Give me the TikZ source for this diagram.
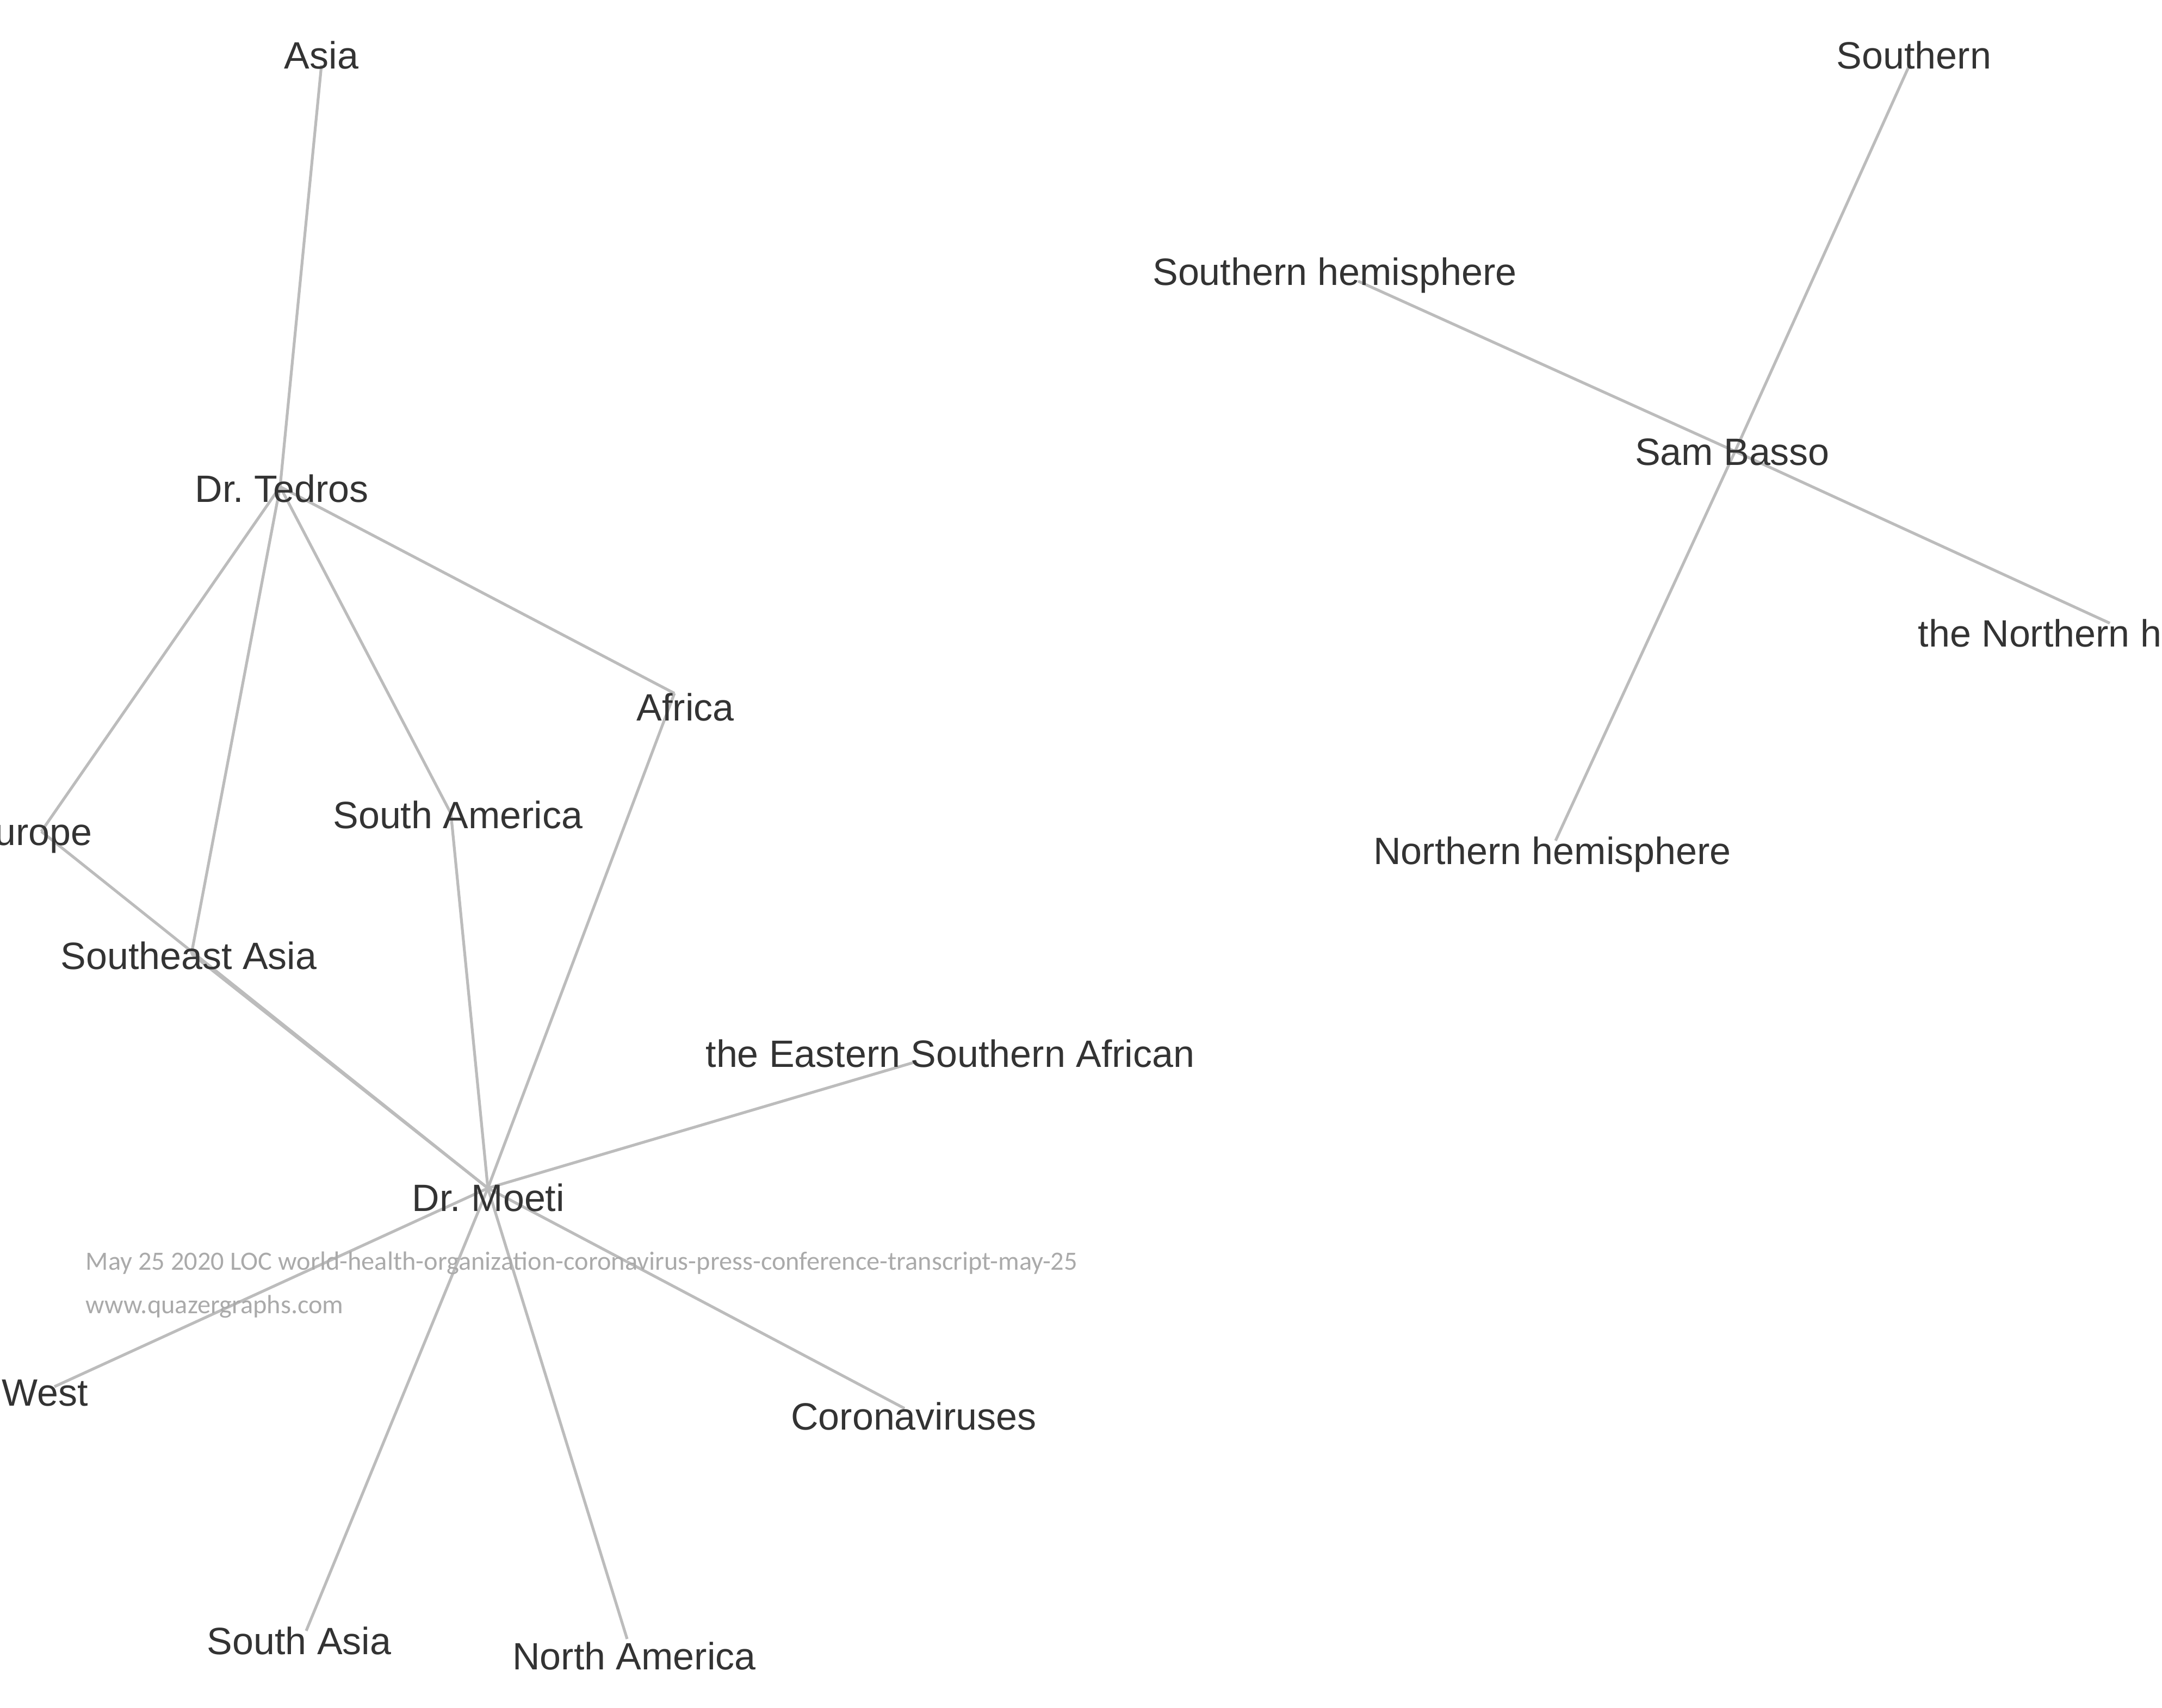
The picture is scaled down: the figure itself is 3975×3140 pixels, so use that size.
\documentclass[tikz,border=0pt]{standalone}
\usepackage{fontspec}
\setmainfont{Liberation Sans}
\newfontfamily\wmfont{Carlito}
\frenchspacing
\definecolor{edgegray}{RGB}{188,188,188}
\definecolor{textdark}{RGB}{51,51,51}
\definecolor{wmgray}{RGB}{170,170,170}
\tikzset{
  edge/.style={draw=edgegray, line width=1.3pt},
  lbl/.style={inner sep=0pt, text=textdark, font=\fontsize{17.5}{21}\selectfont, anchor=base},
  wm/.style={inner sep=0pt, text=wmgray, font=\wmfont\fontsize{12.1}{14}\selectfont, anchor=base west}
}
\begin{document}
\begin{tikzpicture}[x=0.25pt,y=-0.25pt]
\useasboundingbox (0,0) rectangle (3975,3140);
\clip (0,0) rectangle (3975,3140);
% node points
\coordinate (asia) at (591,120);
\coordinate (southern) at (3511,119);
\coordinate (shemi) at (2497,517);
\coordinate (basso) at (3190,830);
\coordinate (tedros) at (515,895);
\coordinate (thenorth) at (3879,1146);
\coordinate (africa) at (1240,1275);
\coordinate (europe) at (76,1529);
\coordinate (samerica) at (829,1496);
\coordinate (nhemi) at (2860,1546);
\coordinate (seasia) at (352,1754);
\coordinate (eastern) at (1686,1952);
\coordinate (moeti) at (897,2185);
\coordinate (west) at (100,2550);
\coordinate (corona) at (1663,2590);
\coordinate (sasia) at (563,2999);
\coordinate (namerica) at (1153,3014);
% connectors
\draw[edge] (tedros) -- (asia);
\draw[edge] (tedros) -- (europe);
\draw[edge] (tedros) -- (seasia);
\draw[edge] (tedros) -- (samerica);
\draw[edge] (tedros) -- (africa);
\draw[edge] (moeti) -- (europe);
\draw[edge] (moeti) -- (seasia);
\draw[edge] (moeti) -- (samerica);
\draw[edge] (moeti) -- (africa);
\draw[edge] (moeti) -- (eastern);
\draw[edge] (moeti) -- (west);
\draw[edge] (moeti) -- (corona);
\draw[edge] (moeti) -- (sasia);
\draw[edge] (moeti) -- (namerica);
\draw[edge] (basso) -- (southern);
\draw[edge] (basso) -- (shemi);
\draw[edge] (basso) -- (thenorth);
\draw[edge] (basso) -- (nhemi);
% labels
\node[lbl] (asiaL) at (591,126) {Asia};
\node[lbl] (southernL) at (3519,126) {Southern};
\node[lbl] (shemiL) at (2454,524) {Southern hemisphere};
\node[lbl] (bassoL) at (3185,855) {Sam Basso};
\node[lbl] (tedrosL) at (518,923) {Dr. Tedros};
\node[lbl, anchor=base west] (thenorthL) at (3526,1189) {the Northern hemisphere};
\node[lbl] (africaL) at (1260,1325) {Africa};
\node[lbl, anchor=base east] (europeL) at (170,1554) {Europe};
\node[lbl] (samericaL) at (842,1523) {South America};
\node[lbl] (nhemiL) at (2854,1589) {Northern hemisphere};
\node[lbl] (seasiaL) at (347,1782) {Southeast Asia};
\node[lbl] (easternL) at (1747,1962) {the Eastern Southern African};
\node[lbl] (moetiL) at (898,2227) {Dr. Moeti};
\node[lbl, anchor=base west] (westL) at (3,2585) {West};
\node[lbl] (coronaL) at (1680,2629) {Coronaviruses};
\node[lbl] (sasiaL) at (550,3042) {South Asia};
\node[lbl] (namericaL) at (1166,3070) {North America};
% watermark
\node[wm] (wm1) at (157,2335) {May 25 2020 LOC world-health-organization-coronavirus-press-conference-transcript-may-25};
\node[wm] (wm2) at (157,2415) {www.quazergraphs.com};
\end{tikzpicture}
\end{document}
